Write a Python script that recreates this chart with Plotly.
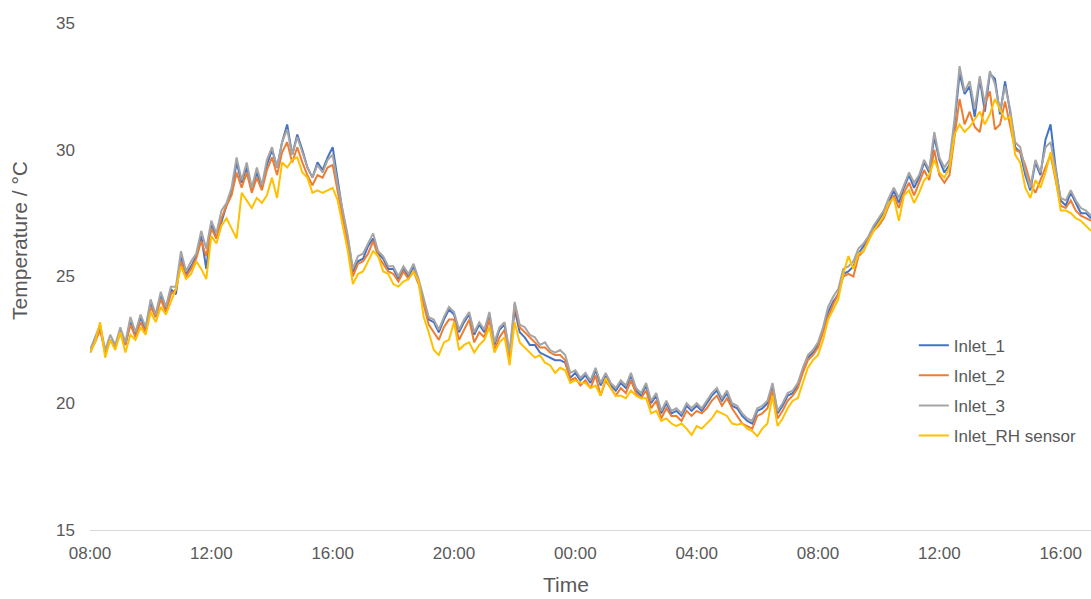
import pandas as pd
import plotly.graph_objects as go

# Logged inlet temperatures (°C), 10-minute readings from 08:00 to 17:00 next day
start_time = "2021-06-01 08:00"
end_time = "2021-06-02 17:00"

inlet_1 = [
    22.0, 22.5, 23.0, 22.0, 22.5, 22.2,
    22.9, 22.3, 23.2, 22.7, 23.4, 22.9,
    24.0, 23.4, 24.3, 23.7, 24.5, 24.3,
    25.8, 25.1, 25.4, 25.8, 26.6, 25.3,
    27.1, 26.5, 27.2, 27.8, 28.3, 29.5,
    28.7, 29.3, 28.4, 29.1, 28.5, 29.4,
    30.0, 29.3, 30.3, 31.0, 29.8, 30.6,
    30.0, 29.3, 28.9, 29.5, 29.2, 29.7,
    30.1, 28.7, 27.5, 26.5, 25.2, 25.6,
    25.7, 26.2, 26.5, 25.9, 25.7, 25.3,
    25.3, 24.9, 25.3, 25.0, 25.4, 24.8,
    24.0, 23.3, 23.2, 22.8, 23.3, 23.7,
    23.5, 22.8, 23.2, 23.5, 22.7, 23.1,
    22.8, 23.5, 22.3, 22.9, 23.1, 21.9,
    23.7, 22.8, 22.6, 22.3, 22.3, 22.0,
    21.9, 21.8, 21.7, 21.7, 21.6, 21.0,
    21.2, 20.9, 21.1, 20.8, 21.3, 20.7,
    21.1, 20.7, 20.5, 20.8, 20.6, 21.1,
    20.5, 20.3, 20.7, 20.0, 20.3, 19.6,
    20.0, 19.6, 19.7, 19.5, 19.9, 19.7,
    19.9, 19.7, 20.0, 20.3, 20.5, 20.1,
    20.4, 19.9, 19.8, 19.5, 19.3, 19.2,
    19.7, 19.8, 20.0, 20.7, 19.6, 19.9,
    20.3, 20.4, 20.7, 21.3, 21.8, 22.0,
    22.3, 22.9, 23.6, 24.0, 24.3, 25.1,
    25.2, 25.4, 25.9, 26.2, 26.5, 26.9,
    27.2, 27.5, 27.9, 28.4, 27.9, 28.5,
    29.0, 28.5, 28.9, 29.5, 29.1, 30.5,
    29.6, 29.1, 29.4, 31.0, 33.0, 32.2,
    32.5, 31.3, 32.8, 31.5, 33.0, 32.8,
    31.4, 32.7, 31.5, 30.1, 29.9, 29.0,
    28.4, 29.5, 29.0, 30.4, 31.0, 29.3,
    28.0, 27.8, 28.3, 27.9, 27.5, 27.5,
    27.3,
]

inlet_2 = [
    22.0, 22.4, 22.9, 22.0, 22.5, 22.2,
    22.8, 22.3, 23.1, 22.6, 23.2, 22.8,
    23.8, 23.4, 24.1, 23.6, 24.3, 24.5,
    25.6, 25.0, 25.3, 25.7, 26.4, 25.8,
    26.9, 26.5, 27.3, 27.8, 28.2, 29.1,
    28.5, 29.1, 28.3, 28.9, 28.4, 29.2,
    29.7, 29.0, 29.9, 30.3, 29.5, 30.1,
    29.5, 29.0, 28.6, 29.0, 28.9, 29.3,
    29.4, 28.3, 27.3, 26.3, 25.0, 25.5,
    25.6, 25.9, 26.4, 25.8, 25.5, 25.2,
    25.1, 24.8, 25.2, 24.9, 25.2, 24.7,
    23.9, 23.1, 22.8, 22.5, 23.0, 23.3,
    23.3, 22.5, 22.9, 23.3, 22.4, 22.8,
    22.6, 23.3, 22.1, 22.6, 22.9, 21.7,
    23.9, 23.0, 22.8, 22.6, 22.4, 22.2,
    22.2, 22.0, 21.9, 21.9, 21.7, 20.9,
    21.0, 20.7, 20.9, 20.6, 21.1, 20.3,
    20.9, 20.6, 20.3, 20.6, 20.4, 20.9,
    20.4, 20.2, 20.5, 19.8, 20.1, 19.4,
    19.8, 19.5, 19.5, 19.3, 19.7, 19.5,
    19.7, 19.6, 19.8, 20.1, 20.3, 19.9,
    20.2, 19.8, 19.5, 19.2, 19.1, 19.0,
    19.5, 19.6, 19.8, 20.5, 19.4, 19.7,
    20.1, 20.3, 20.6, 21.2, 21.7, 21.9,
    22.2, 22.8, 23.4, 23.9, 24.3, 25.0,
    25.1, 25.0, 25.8, 26.0, 26.5, 26.8,
    27.0, 27.3, 27.8, 28.2, 27.7, 28.3,
    28.7, 28.2, 28.7, 29.2, 28.8, 30.0,
    29.0, 28.7, 29.0, 30.5, 32.0, 31.0,
    31.5, 30.9, 30.7, 31.8, 32.3, 30.8,
    31.0, 31.9, 30.9, 30.0, 29.9, 29.4,
    28.7, 28.3, 28.8, 29.3, 29.8, 28.8,
    27.8, 27.7, 28.0, 27.6, 27.4, 27.3,
    27.2,
]

inlet_3 = [
    22.1, 22.6, 23.1, 22.1, 22.7, 22.3,
    23.0, 22.4, 23.4, 22.8, 23.5, 23.0,
    24.1, 23.5, 24.4, 23.8, 24.6, 24.6,
    26.0, 25.2, 25.6, 25.9, 26.8, 26.1,
    27.2, 26.7, 27.6, 27.9, 28.5, 29.7,
    28.8, 29.5, 28.5, 29.3, 28.6, 29.6,
    30.1, 29.3, 30.3, 30.8, 29.8, 30.5,
    29.9, 29.3, 28.9, 29.4, 29.1, 29.6,
    29.8, 28.6, 27.6, 26.6, 25.3, 25.8,
    25.9, 26.3, 26.7, 26.0, 25.8, 25.4,
    25.4, 25.0, 25.4, 25.1, 25.5, 24.9,
    24.2, 23.4, 23.3, 22.9, 23.4, 23.8,
    23.6, 22.9, 23.3, 23.6, 22.8, 23.2,
    22.9, 23.6, 22.4, 23.0, 23.2, 22.0,
    24.0, 23.1, 23.0, 22.7, 22.6, 22.3,
    22.4, 22.1, 22.0, 22.1, 21.9, 21.2,
    21.3, 21.0, 21.2, 20.9, 21.4, 20.8,
    21.2, 20.8, 20.6, 20.9, 20.7, 21.2,
    20.6, 20.4, 20.8, 20.1, 20.4, 19.7,
    20.1, 19.7, 19.8, 19.6, 20.0, 19.8,
    20.0, 19.8, 20.1, 20.4, 20.6, 20.2,
    20.5, 20.0, 19.9, 19.6, 19.4, 19.3,
    19.8, 19.9, 20.1, 20.8, 19.7, 20.0,
    20.4, 20.5, 20.8, 21.4, 21.9, 22.1,
    22.4, 23.0, 23.8, 24.2, 24.5, 25.3,
    25.4, 25.6, 26.1, 26.3, 26.6, 27.0,
    27.3, 27.6, 28.1, 28.5, 28.1, 28.6,
    29.1, 28.7, 29.0, 29.6, 29.2, 30.7,
    29.7, 29.3, 29.6, 31.2, 33.3, 32.3,
    32.7, 31.6, 32.9, 31.8, 33.1, 32.6,
    31.5, 32.5, 31.6, 30.3, 30.1, 29.2,
    28.5, 29.6, 29.1, 30.1, 30.3, 29.2,
    28.1, 28.0, 28.4, 28.0, 27.7, 27.6,
    27.4,
]

inlet_rh_sensor = [
    22.0, 22.4, 23.2, 21.8, 22.5, 22.1,
    22.8, 22.0, 22.7, 22.5, 23.0, 22.7,
    23.6, 23.2, 23.8, 23.5, 24.0, 24.5,
    25.4, 24.9, 25.1, 25.6, 25.3, 24.9,
    26.6, 26.3, 27.0, 27.3, 26.9, 26.5,
    28.3, 28.0, 27.7, 28.1, 27.9, 28.2,
    28.9, 28.1, 29.5, 29.3, 29.6, 29.7,
    29.1, 28.9, 28.3, 28.4, 28.3, 28.4,
    28.5, 28.0, 27.0, 26.0, 24.7, 25.1,
    25.2, 25.6, 26.0, 25.8, 25.2, 25.1,
    24.7, 24.6, 24.8, 24.9, 25.2, 24.8,
    23.4, 22.8, 22.1, 21.9, 22.4, 22.5,
    23.2, 22.1, 22.3, 22.4, 22.0, 22.3,
    22.5, 23.0, 22.0, 22.4, 22.6, 21.5,
    23.2, 22.4, 22.2, 22.0, 21.8, 21.9,
    21.6, 21.5, 21.2, 21.4, 21.3, 20.8,
    20.9, 20.8, 20.8, 20.6, 20.7, 20.3,
    21.0, 20.6, 20.3, 20.3, 20.2, 20.5,
    20.3, 20.2, 20.2, 19.6, 19.7, 19.3,
    19.4, 19.2, 19.1, 19.2, 19.0, 18.75,
    19.1, 19.0, 19.2, 19.4, 19.7, 19.6,
    19.5, 19.2, 19.15, 19.2, 19.0, 18.9,
    18.7, 19.0, 19.2, 20.3, 19.1, 19.4,
    19.8, 20.1, 20.2, 20.8, 21.4, 21.7,
    21.9, 22.5, 23.3, 23.7, 24.1, 25.1,
    25.8, 25.3, 25.9, 26.0, 26.4, 26.8,
    27.1, 27.4, 27.9, 28.1, 27.2, 28.2,
    28.4, 27.9, 28.3, 28.8, 29.0, 29.6,
    29.1, 28.9, 29.3, 30.6, 31.0, 30.7,
    30.9, 31.2, 31.5, 31.0, 31.4, 32.0,
    31.6, 31.2, 31.3, 29.8, 29.5, 28.5,
    28.1, 28.8, 28.5, 29.1, 29.9, 28.9,
    27.6, 27.6, 27.5, 27.3, 27.2, 27.0,
    26.8,
]

series_names = ["Inlet_1", "Inlet_2", "Inlet_3", "Inlet_RH sensor"]
series_colors = ["#4472C4", "#ED7D31", "#A5A5A5", "#FFC000"]
series_values = [inlet_1, inlet_2, inlet_3, inlet_rh_sensor]

y_ticks = [15, 20, 25, 30, 35]

times = pd.date_range(start_time, periods=len(inlet_3), freq="10min")

text_color = "#595959"
font_family = "Liberation Sans, Arial, sans-serif"

fig = go.Figure()
for i, (name, color, vals) in enumerate(zip(series_names, series_colors, series_values)):
    fig.add_trace(go.Scatter(
        x=times, y=vals, name=name, mode="lines",
        line=dict(color=color, width=2),
        legendgroup=f"g{i}",
    ))

fig.update_layout(
    width=1091, height=599,
    margin=dict(l=90, r=0, t=23, b=69),
    paper_bgcolor="white", plot_bgcolor="white",
    font=dict(family=font_family, color=text_color, size=17),
    showlegend=True,
    legend=dict(
        x=0.823, y=0.399, xanchor="left", yanchor="top",
        bgcolor="rgba(0,0,0,0)", borderwidth=0,
        font=dict(size=17, color=text_color),
        tracegroupgap=5, itemwidth=30,
    ),
    xaxis=dict(
        type="date",
        range=[start_time, end_time],
        tick0=start_time, dtick=4 * 3600 * 1000,
        tickformat="%H:%M",
        showgrid=False, zeroline=False,
        showline=True, linecolor="#D9D9D9", linewidth=1,
        ticks="", ticklabelstandoff=8,
        tickfont=dict(size=17, color=text_color),
    ),
    yaxis=dict(
        range=[15, 35], tickvals=y_ticks,
        showgrid=False, zeroline=False, showline=False,
        ticks="", ticklabelstandoff=14,
        tickfont=dict(size=17, color=text_color),
    ),
    annotations=[
        dict(text="Time", xref="paper", yref="paper",
             x=0.4755, y=-0.108, xanchor="center", yanchor="middle",
             showarrow=False, font=dict(size=21, color=text_color)),
        dict(text="Temperature / °C", xref="paper", yref="paper",
             x=-0.07, y=0.572, xanchor="center", yanchor="middle",
             textangle=-90, showarrow=False,
             font=dict(size=21, color=text_color)),
    ],
)

fig.write_html("out.html")
